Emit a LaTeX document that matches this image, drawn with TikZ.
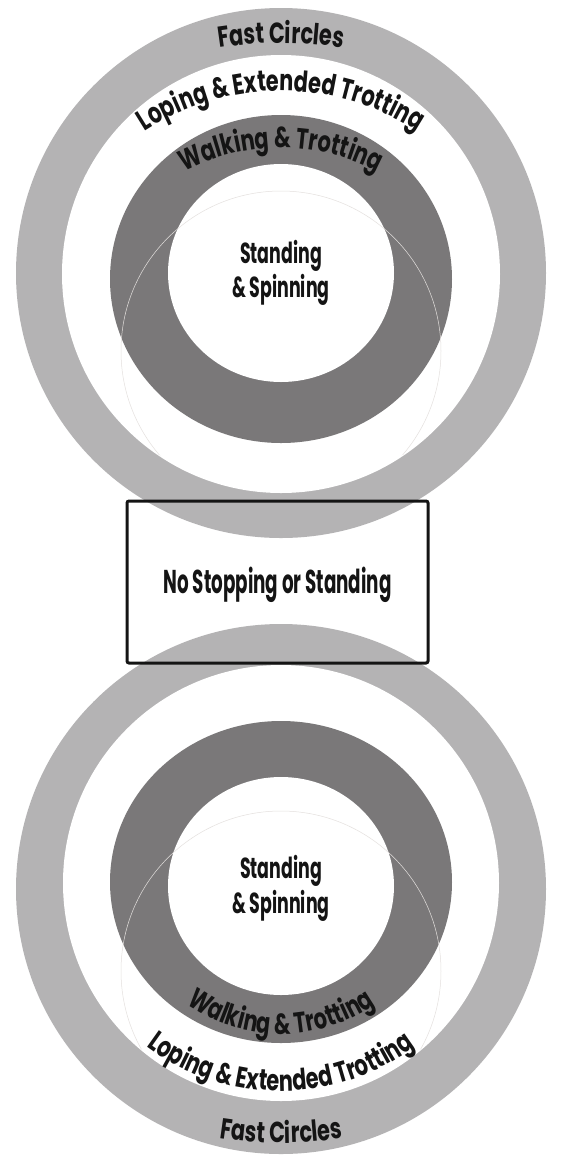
\documentclass[tikz,border=0pt]{standalone}
\usepackage{fontspec}
\setmainfont{Poppins}[FakeStretch=0.6]
\newfontfamily\ringfont{Poppins}[FakeStretch=0.72]
\newfontfamily\boxfont{Poppins}[FakeStretch=0.555]
\usetikzlibrary{decorations.text}
\definecolor{ltgray}{HTML}{B4B3B4}
\definecolor{dkgray}{HTML}{7A7879}
\definecolor{ink}{HTML}{141414}
\definecolor{faintline}{HTML}{E4E0DE}
\tikzset{
  lbl/.style={font=\bfseries\fontsize{14.5}{17}\selectfont, text=ink, inner sep=0pt},
  ringtext/.style={decorate, decoration={text along path, text align=center, text color=ink, text={#1}}},
  faint/.style={draw=faintline, line width=0.25pt},
  boxstyle/.style={draw=ink, line width=1.5pt, rounded corners=1pt, minimum width=150.5pt, minimum height=81pt, inner sep=0pt,
    font=\boxfont\bfseries\fontsize{16.5}{19}\selectfont, text=ink, text height=11.5pt, text depth=0pt},
}
\begin{document}
\begin{tikzpicture}[x=0.5pt,y=-0.5pt]
\fill[white] (0,0) rectangle (562,1158);
\useasboundingbox (0,0) rectangle (562,1158);
% ---------- top target ----------
\fill[ltgray] (281,273) circle[radius=132.5pt];
\fill[white] (281,274) circle[radius=109.5pt];
\fill[dkgray] (281,279) ellipse[x radius=85.5pt, y radius=82pt];
\fill[white] (281,273) ellipse[x radius=56.5pt, y radius=54.5pt];
\begin{scope}
  \clip (281,274) circle[radius=109pt];
  \draw[faint] (281,351) circle[radius=80pt];
\end{scope}
% ---------- bottom target ----------
\fill[ltgray] (281,889) circle[radius=132.5pt];
\fill[white] (281,883) circle[radius=109pt];
\fill[dkgray] (281,882) ellipse[x radius=85.5pt, y radius=80.5pt];
\fill[white] (281,886) ellipse[x radius=56.5pt, y radius=54.5pt];
\begin{scope}
  \clip (281,883) circle[radius=108.5pt];
  \draw[faint] (281,971) circle[radius=80pt];
\end{scope}
% ---------- ring labels, top ----------
\path[ringtext={|\ringfont\bfseries\fontsize{14.5}{17}\selectfont|Fast Circles}]
  (281,443) ++(135:200pt) arc[start angle=135, end angle=45, radius=200pt];
\path[ringtext={|\ringfont\bfseries\fontsize{14.5}{17}\selectfont|Loping {\&} Extended Trotting}]
  (281,342) ++(165:125.5pt) arc[start angle=165, end angle=15, radius=125.5pt];
\path[ringtext={|\ringfont\bfseries\fontsize{14.5}{17}\selectfont|Walking {\&} Trotting}]
  (281,356) ++(165:104pt) arc[start angle=165, end angle=15, radius=104pt];
% ---------- ring labels, bottom ----------
\path[ringtext={|\ringfont\bfseries\fontsize{14.5}{17}\selectfont|Fast Circles}]
  (281,743) ++(225:200pt) arc[start angle=225, end angle=315, radius=200pt];
\path[ringtext={|\ringfont\bfseries\fontsize{14.5}{17}\selectfont|Loping {\&} Extended Trotting}]
  (281,866) ++(195:112.5pt) arc[start angle=195, end angle=345, radius=112.5pt];
\path[ringtext={|\ringfont\bfseries\fontsize{14.5}{17}\selectfont|Walking {\&} Trotting}]
  (281,869) ++(195:82.5pt) arc[start angle=195, end angle=345, radius=82.5pt];
% ---------- centre labels ----------
\node[lbl, anchor=base] (st1) at (281,263) {Standing};
\node[lbl, anchor=base] (sp1) at (281,297) {\& Spinning};
\node[lbl, anchor=base] (st2) at (281,878) {Standing};
\node[lbl, anchor=base] (sp2) at (281,913) {\& Spinning};
% ---------- box ----------
\node[boxstyle] (box) at (277.5,582) {No Stopping or Standing};
\end{tikzpicture}
\end{document}
